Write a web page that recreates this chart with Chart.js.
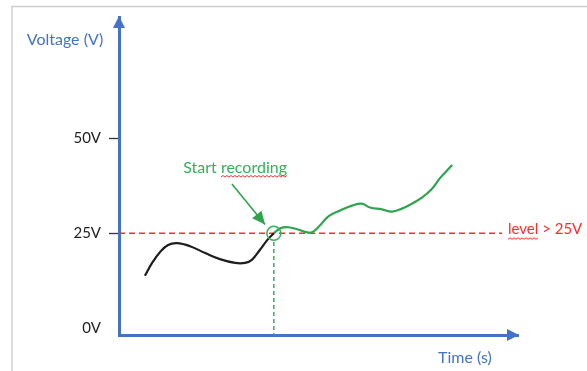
<!DOCTYPE html>
<html><head><meta charset="utf-8">
<script src="https://cdn.jsdelivr.net/npm/chart.js@4/dist/chart.umd.min.js"></script>
<style>html,body{margin:0;padding:0;background:#fff}#wrap{width:587px;height:371px}</style>
</head><body><div id="wrap"><canvas id="c" width="587" height="371"></canvas></div>
<script>
// ---- data ----
const yTickValues = [0, 25, 50];
const yTickLabels = ['0V', '25V', '50V'];
const yAxisTitle = 'Voltage (V)';
const xAxisTitle = 'Time (s)';
// signal before trigger (black)
const beforeX = [6.5, 8.3, 10.3, 12.3, 14.5, 17.8, 21.6, 25.3, 29.1, 31.6, 33.3, 35.3, 37.3, 38.8];
const beforeV = [13.8, 17.2, 20.1, 21.9, 22.4, 21.6, 19.8, 18.2, 17.2, 17.2, 18.0, 20.6, 23.4, 25.0];
// signal after trigger (green, recorded)
const afterX = [38.8, 40.4, 42.4, 44.9, 46.9, 48.4, 50.4, 52.4, 55.4, 58.4, 60.9, 62.9, 65.9, 68.4, 70.9, 73.4, 75.9, 78.4, 80.5, 83.5];
const afterV = [25.0, 26.3, 26.6, 26.0, 25.3, 25.3, 27.1, 29.4, 31.0, 32.3, 32.8, 31.8, 31.3, 30.7, 31.5, 32.8, 34.4, 36.7, 39.6, 43.0];
const triggerLevel = 25;
const triggerX = 38.8;
const levelLineX = [0, 96];
const levelLabel = 'level > 25V';
const startLabel = 'Start recording';
const arrowX = [28.3, 36.6];
const arrowV = [38.0, 27.3];
const startLabelX = 29.1, startLabelV = 42.2;
const yMin = -1.8, yMax = 82, xMin = 0, xMax = 100;

const BLUE = '#4472c4', GREEN = '#2ea44f', TGREEN = '#33b05a', RED = '#ff2a2a';
const FONT = 'Lato, "Open Sans", sans-serif';

function squiggle(ctx, x0, x1, y) {
  ctx.save();
  ctx.strokeStyle = RED; ctx.lineWidth = 1;
  ctx.beginPath();
  let up = true;
  ctx.moveTo(x0, y);
  for (let x = x0 + 2; x <= x1; x += 2) { ctx.lineTo(x, up ? y - 1.5 : y); up = !up; }
  ctx.stroke();
  ctx.restore();
}

const deco = {
  id: 'deco',
  beforeDraw(chart) {
    const ctx = chart.ctx;
    ctx.save();
    ctx.fillStyle = '#fff'; ctx.fillRect(0, 0, chart.width, chart.height);
    ctx.strokeStyle = '#cfcfcf'; ctx.lineWidth = 1.5;
    ctx.beginPath(); ctx.moveTo(12, chart.height); ctx.lineTo(12, 6.5); ctx.lineTo(chart.width, 6.5); ctx.stroke();
    ctx.restore();
  },
  afterDraw(chart) {
    const ctx = chart.ctx, x = chart.scales.x, y = chart.scales.y, a = chart.chartArea;
    ctx.save();
    ctx.fillStyle = BLUE;
    // y arrow head
    ctx.beginPath(); ctx.moveTo(a.left, a.top - 1); ctx.lineTo(a.left - 6, a.top + 11); ctx.lineTo(a.left + 6, a.top + 11); ctx.closePath(); ctx.fill();
    // x arrow head
    ctx.beginPath(); ctx.moveTo(a.right + 1, a.bottom); ctx.lineTo(a.right - 11, a.bottom - 6); ctx.lineTo(a.right - 11, a.bottom + 6); ctx.closePath(); ctx.fill();
    // axis titles
    ctx.font = '16px ' + FONT; ctx.textBaseline = 'middle';
    ctx.textAlign = 'center';
    ctx.fillText(yAxisTitle, 65, 40);
    ctx.fillText(xAxisTitle, 465, 358);
    // start recording label
    const sx = x.getPixelForValue(startLabelX), sy = y.getPixelForValue(startLabelV);
    ctx.fillStyle = TGREEN; ctx.font = '16px ' + FONT;
    ctx.fillText(startLabel, sx, sy);
    const w = ctx.measureText(startLabel).width;
    const wStart = ctx.measureText('Start ').width;
    squiggle(ctx, sx - w / 2 + wStart, sx + w / 2, sy + 9);
    // arrow head for annotation arrow
    const x0 = x.getPixelForValue(arrowX[0]), y0 = y.getPixelForValue(arrowV[0]);
    const x1 = x.getPixelForValue(arrowX[1]), y1 = y.getPixelForValue(arrowV[1]);
    const ang = Math.atan2(y1 - y0, x1 - x0);
    ctx.fillStyle = GREEN;
    ctx.beginPath();
    ctx.moveTo(x1, y1);
    ctx.lineTo(x1 - 13 * Math.cos(ang) + 6 * Math.sin(ang), y1 - 13 * Math.sin(ang) - 6 * Math.cos(ang));
    ctx.lineTo(x1 - 13 * Math.cos(ang) - 6 * Math.sin(ang), y1 - 13 * Math.sin(ang) + 6 * Math.cos(ang));
    ctx.closePath(); ctx.fill();
    // level label
    const lx = x.getPixelForValue(levelLineX[1]) + 6, ly = y.getPixelForValue(triggerLevel);
    ctx.fillStyle = RED; ctx.textAlign = 'left'; ctx.font = '15px ' + FONT;
    ctx.fillText(levelLabel, lx, ly - 4);
    const lw = ctx.measureText('level').width;
    squiggle(ctx, lx, lx + lw, ly + 6);
    ctx.restore();
  }
};

const pts = (xs, vs) => xs.map((v, i) => ({ x: v, y: vs[i] }));

new Chart(document.getElementById('c'), {
  type: 'line',
  data: {
    datasets: [
      { data: pts(beforeX, beforeV), borderColor: '#1e1e1e', borderWidth: 2.2, tension: 0.4, pointRadius: 0, fill: false, order: 1 },
      { data: pts(afterX, afterV), borderColor: GREEN, borderWidth: 2.2, tension: 0.4, pointRadius: 0, fill: false, order: 1 },
      { data: pts(levelLineX, [triggerLevel, triggerLevel]), borderColor: RED, borderWidth: 1.5, borderDash: [6, 4], pointRadius: 0, order: 3 },
      { data: pts([triggerX, triggerX], [triggerLevel - 2.3, yMin]), borderColor: TGREEN, borderWidth: 1.5, borderDash: [4, 3], pointRadius: 0, order: 3 },
      { data: pts([triggerX], [triggerLevel]), showLine: false, pointRadius: 7, pointBorderColor: TGREEN, pointBackgroundColor: 'rgba(0,0,0,0)', pointBorderWidth: 1.5, order: 0 },
      { data: pts(arrowX, arrowV), borderColor: GREEN, borderWidth: 1.6, pointRadius: 0, order: 0 }
    ]
  },
  options: {
    responsive: false, animation: false, devicePixelRatio: 1,
    layout: { padding: { left: 0, top: 13, right: 69, bottom: 0 } },
    plugins: { legend: { display: false }, tooltip: { enabled: false } },
    scales: {
      x: {
        type: 'linear', min: xMin, max: xMax,
        grid: { display: false },
        ticks: { display: false },
        border: { display: true, color: BLUE, width: 3 },
        afterFit(s) { s.height = 36; }
      },
      y: {
        type: 'linear', min: yMin, max: yMax,
        afterBuildTicks(s) { s.ticks = yTickValues.map(v => ({ value: v })); },
        grid: { drawOnChartArea: false, drawTicks: true, tickLength: 10, tickWidth: 1.3,
          tickColor: c => (c.tick && c.tick.value === 0) ? 'rgba(0,0,0,0)' : '#333' },
        ticks: { padding: 8, color: '#222', font: { family: FONT, size: 15 },
          callback: v => yTickLabels[yTickValues.indexOf(v)] },
        border: { display: true, color: BLUE, width: 3 },
        afterFit(s) { s.width = 119; }
      }
    }
  },
  plugins: [deco]
});
</script>
</body></html>
